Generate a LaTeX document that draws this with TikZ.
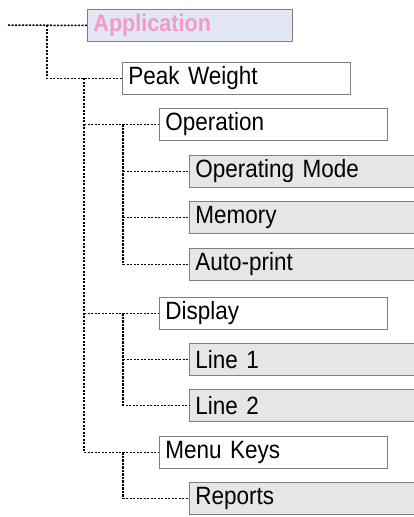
\documentclass[tikz,border=0pt]{standalone}
\usepackage{fontspec}
\setmainfont[FakeStretch=0.9]{Liberation Sans}
\definecolor{boxline}{HTML}{7F7F7F}
\definecolor{greyfill}{HTML}{E6E6E6}
\definecolor{appfill}{HTML}{E3E7F5}
\definecolor{apptext}{HTML}{F49AC8}
\begin{document}
\begin{tikzpicture}[x=1pt,y=-1pt,
  box/.style={draw=boxline,line width=0.9pt,anchor=north west,minimum height=32pt,
    inner xsep=6pt,inner ysep=0pt,align=left,font=\fontsize{25}{28}\selectfont},
  wbox/.style={box,fill=white,text width=216pt},
  gbox/.style={box,fill=greyfill,text width=220pt},
  conn/.style={draw=black,line width=1.5pt,dash pattern=on 2.2pt off 1.3pt}]
\useasboundingbox (0,0) rectangle (414,517);
\clip (0,0) rectangle (414,517);
\node[box,fill=appfill,text width=193pt,font=\fontsize{24}{28}\selectfont\bfseries,text=apptext] (app) at (87,9) {Application};
\node[wbox] (pw) at (122,62) {Peak Weight};
\node[wbox] (op) at (159,108) {Operation};
\node[gbox] (om) at (189,155) {Operating Mode};
\node[gbox] (mem) at (189,201) {Memory};
\node[gbox] (ap) at (189,248) {Auto-print};
\node[wbox] (disp) at (159,297) {Display};
\node[gbox] (l1) at (189,343) {Line 1};
\node[gbox] (l2) at (189,389) {Line 2};
\node[wbox] (mk) at (159,436) {Menu Keys};
\node[gbox] (rep) at (189,482) {Reports};
\coordinate (s) at (8,25);
\coordinate (j1) at (47,25);
\coordinate (j2) at (84,78);
\coordinate (j3) at (123,124);
\coordinate (j4) at (123,313);
\coordinate (j5) at (123,452);
\draw[conn] (s) -- (app.west);
\draw[conn] (j1) |- (pw.west);
\draw[conn] (j2) |- (mk.west);
\draw[conn] (j2 |- op.west) -- (op.west);
\draw[conn] (j2 |- disp.west) -- (disp.west);
\draw[conn] (j3 |- op.west) |- (ap.west);
\draw[conn] (j3 |- om.west) -- (om.west);
\draw[conn] (j3 |- mem.west) -- (mem.west);
\draw[conn] (j4 |- disp.west) |- (l2.west);
\draw[conn] (j4 |- l1.west) -- (l1.west);
\draw[conn] (j5 |- mk.west) |- (rep.west);
\end{tikzpicture}
\end{document}
